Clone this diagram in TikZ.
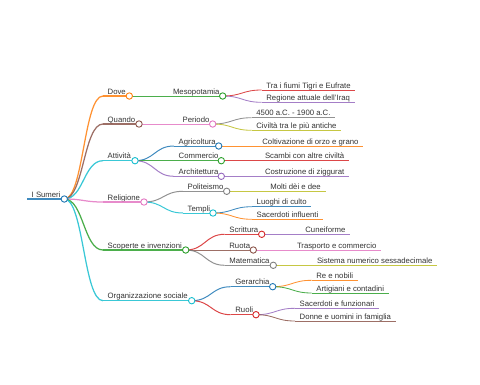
\documentclass[tikz,border=0pt]{standalone}
\usepackage{fontspec}
\setmainfont{Liberation Sans}
\usetikzlibrary{calc}
\definecolor{cB}{HTML}{1F77B4}
\definecolor{cO}{HTML}{FF7F0E}
\definecolor{cG}{HTML}{2CA02C}
\definecolor{cR}{HTML}{D62728}
\definecolor{cP}{HTML}{9467BD}
\definecolor{cBr}{HTML}{8C564B}
\definecolor{cPk}{HTML}{E377C2}
\definecolor{cGy}{HTML}{7F7F7F}
\definecolor{cOl}{HTML}{BCBD22}
\definecolor{cC}{HTML}{17BECF}
\definecolor{txt}{HTML}{333333}
\tikzset{
  lbl/.style={anchor=base west, inner sep=0pt, text=txt, font=\fontsize{7.75}{9}\selectfont},
  dot/.style={circle, fill=white, line width=0.9pt, inner sep=0pt, minimum size=6.4pt},
  w0/.style={line width=2pt, draw opacity=0.85},
  w1/.style={line width=1.25pt, draw opacity=0.85},
  w2/.style={line width=1pt, draw opacity=0.85},
  w3/.style={line width=0.85pt, draw opacity=0.85}
}
% name, start x, y, circle x, colour, width, text
\newcommand\mmbranch[7]{%
  \coordinate (#1s) at (#2,#3);
  \coordinate (#1c) at (#4,#3);
  \node[lbl] (#1t) at ($(#1s)+(4.5,-2)$) {#7};
  \draw[#5,#6] (#1s) -- (#1c);}
% name, start x, y, colour, width, text
\newcommand\mmleaf[6]{%
  \coordinate (#1s) at (#2,#3);
  \node[lbl] (#1t) at ($(#1s)+(4.5,-2)$) {#6};
  \draw[#4,#5] (#1s) -- ($(#1s -| #1t.east)+(4.5,0)$);}
% from, to, colour, width
\newcommand\mmlink[4]{%
  \draw[#3,#4] let \p1=(#1), \p2=(#2) in (#1) .. controls ({(\x1+\x2)/2},\y1) and ({(\x1+\x2)/2},\y2) .. (#2);}
\newcommand\mmdot[2]{\node[dot,draw=#2] (#1d) at (#1c) {};}
\begin{document}
\begin{tikzpicture}[x=1pt,y=-1pt]
\useasboundingbox (0,0) rectangle (480,384);
% root
\mmbranch{R}{27}{199}{64.3}{cB}{w0}{I Sumeri}
% level 1
\mmbranch{A}{103}{96}{129.3}{cO}{w1}{Dove}
\mmbranch{B}{103}{124}{139}{cBr}{w1}{Quando}
\mmbranch{C}{103}{160.7}{135}{cC}{w1}{Attività}
\mmbranch{D}{103}{202}{144}{cPk}{w1}{Religione}
\mmbranch{E}{103}{250}{185.7}{cG}{w1}{Scoperte e invenzioni}
\mmbranch{F}{103}{300.7}{191.7}{cC}{w1}{Organizzazione sociale}
\mmlink{Rc}{As}{cO}{w1}
\mmlink{Rc}{Bs}{cBr}{w1}
\mmlink{Rc}{Cs}{cC}{w1}
\mmlink{Rc}{Ds}{cPk}{w1}
\mmlink{Rc}{Es}{cG}{w1}
\mmlink{Rc}{Fs}{cC}{w1}
% level 2
\mmbranch{Aa}{168.3}{96}{222.7}{cG}{w2}{Mesopotamia}
\mmbranch{Ba}{178}{124}{212.7}{cPk}{w2}{Periodo}
\mmbranch{Ca}{174}{146}{218.7}{cB}{w2}{Agricoltura}
\mmbranch{Cb}{174}{160.7}{221.3}{cG}{w2}{Commercio}
\mmbranch{Cc}{174}{176.3}{221.3}{cP}{w2}{Architettura}
\mmbranch{Da}{183}{191.3}{226.7}{cGy}{w2}{Politeismo}
\mmbranch{Db}{183}{213}{213}{cC}{w2}{Templi}
\mmbranch{Ea}{224.7}{234.3}{261.7}{cR}{w2}{Scrittura}
\mmbranch{Eb}{224.7}{250}{253.3}{cBr}{w2}{Ruota}
\mmbranch{Ec}{224.7}{265.3}{273.3}{cGy}{w2}{Matematica}
\mmbranch{Fa}{230.7}{286.7}{272.7}{cB}{w2}{Gerarchia}
\mmbranch{Fb}{230.7}{314.7}{256}{cR}{w2}{Ruoli}
\mmlink{Ac}{Aas}{cG}{w2}
\mmlink{Bc}{Bas}{cPk}{w2}
\mmlink{Cc}{Cas}{cB}{w2}
\mmlink{Cc}{Cbs}{cG}{w2}
\mmlink{Cc}{Ccs}{cP}{w2}
\mmlink{Dc}{Das}{cGy}{w2}
\mmlink{Dc}{Dbs}{cC}{w2}
\mmlink{Ec}{Eas}{cR}{w2}
\mmlink{Ec}{Ebs}{cBr}{w2}
\mmlink{Ec}{Ecs}{cGy}{w2}
\mmlink{Fc}{Fas}{cB}{w2}
\mmlink{Fc}{Fbs}{cR}{w2}
% level 3 (leaves)
\mmleaf{Aa1}{261.7}{90}{cR}{w3}{Tra i fiumi Tigri e Eufrate}
\mmleaf{Aa2}{261.7}{102.3}{cP}{w3}{Regione attuale dell'Iraq}
\mmleaf{Ba1}{251.7}{117.7}{cGy}{w3}{4500 a.C. - 1900 a.C.}
\mmleaf{Ba2}{251.7}{130.3}{cOl}{w3}{Civiltà tra le più antiche}
\mmleaf{Ca1}{257.7}{146}{cO}{w3}{Coltivazione di orzo e grano}
\mmleaf{Cb1}{260.3}{160.7}{cR}{w3}{Scambi con altre civiltà}
\mmleaf{Cc1}{260.3}{176.3}{cP}{w3}{Costruzione di ziggurat}
\mmleaf{Da1}{265.7}{191.3}{cOl}{w3}{Molti dèi e dee}
\mmleaf{Db1}{252}{206.7}{cB}{w3}{Luoghi di culto}
\mmleaf{Db2}{252}{219.3}{cO}{w3}{Sacerdoti influenti}
\mmleaf{Ea1}{300.7}{234.3}{cP}{w3}{Cuneiforme}
\mmleaf{Eb1}{292.3}{250}{cPk}{w3}{Trasporto e commercio}
\mmleaf{Ec1}{312.3}{265.3}{cOl}{w3}{Sistema numerico sessadecimale}
\mmleaf{Fa1}{311.7}{280.3}{cO}{w3}{Re e nobili}
\mmleaf{Fa2}{311.7}{293}{cG}{w3}{Artigiani e contadini}
\mmleaf{Fb1}{295}{308.3}{cP}{w3}{Sacerdoti e funzionari}
\mmleaf{Fb2}{295}{321}{cBr}{w3}{Donne e uomini in famiglia}
\mmlink{Aac}{Aa1s}{cR}{w3}
\mmlink{Aac}{Aa2s}{cP}{w3}
\mmlink{Bac}{Ba1s}{cGy}{w3}
\mmlink{Bac}{Ba2s}{cOl}{w3}
\mmlink{Cac}{Ca1s}{cO}{w3}
\mmlink{Cbc}{Cb1s}{cR}{w3}
\mmlink{Ccc}{Cc1s}{cP}{w3}
\mmlink{Dac}{Da1s}{cOl}{w3}
\mmlink{Dbc}{Db1s}{cB}{w3}
\mmlink{Dbc}{Db2s}{cO}{w3}
\mmlink{Eac}{Ea1s}{cP}{w3}
\mmlink{Ebc}{Eb1s}{cPk}{w3}
\mmlink{Ecc}{Ec1s}{cOl}{w3}
\mmlink{Fac}{Fa1s}{cO}{w3}
\mmlink{Fac}{Fa2s}{cG}{w3}
\mmlink{Fbc}{Fb1s}{cP}{w3}
\mmlink{Fbc}{Fb2s}{cBr}{w3}
% circles
\mmdot{R}{cB}
\mmdot{A}{cO}\mmdot{B}{cBr}\mmdot{C}{cC}\mmdot{D}{cPk}\mmdot{E}{cG}\mmdot{F}{cC}
\mmdot{Aa}{cG}\mmdot{Ba}{cPk}\mmdot{Ca}{cB}\mmdot{Cb}{cG}\mmdot{Cc}{cP}
\mmdot{Da}{cGy}\mmdot{Db}{cC}\mmdot{Ea}{cR}\mmdot{Eb}{cBr}\mmdot{Ec}{cGy}
\mmdot{Fa}{cB}\mmdot{Fb}{cR}
\end{tikzpicture}
\end{document}
